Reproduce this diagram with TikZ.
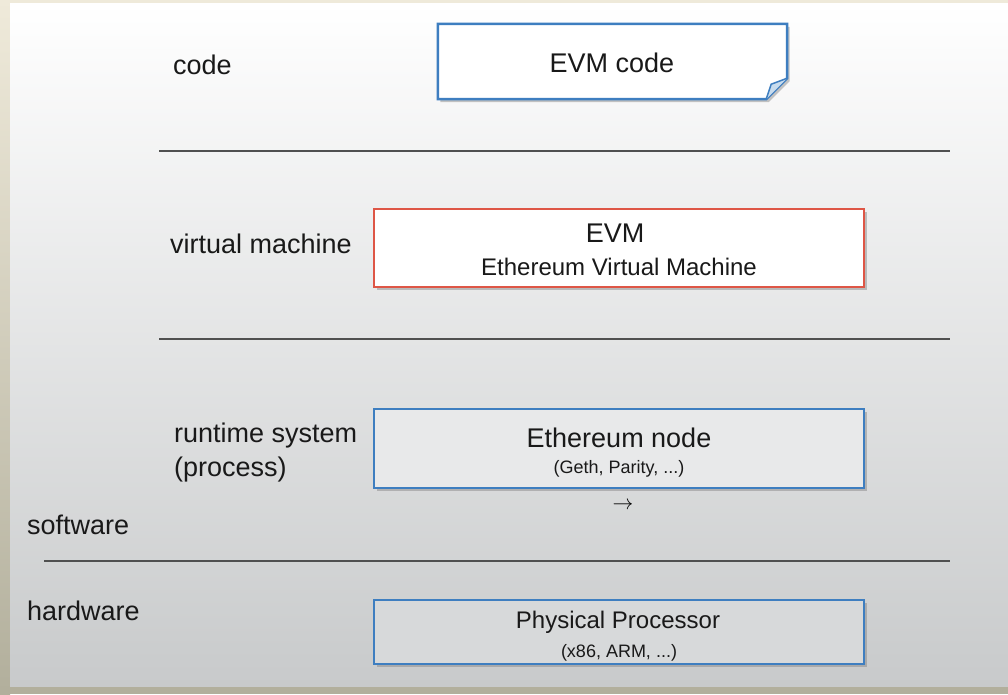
\documentclass[tikz,border=0pt]{standalone}
\usepackage{fontspec}
\setmainfont{Liberation Sans}
\usetikzlibrary{shadows}
\definecolor{boxblue}{RGB}{62,126,192}
\definecolor{boxred}{RGB}{222,86,70}
\definecolor{rulegray}{RGB}{80,80,80}
\definecolor{framebeige}{RGB}{239,234,218}
\definecolor{framedark}{RGB}{178,175,156}
\definecolor{slidemid}{RGB}{238,239,240}
\definecolor{slidegray}{RGB}{200,202,203}
\definecolor{foldblue}{RGB}{200,220,238}
\tikzset{
	layer/.style={anchor=base west,inner sep=0pt,font=\fontsize{27}{32}\selectfont,text=black!90},
	title/.style={anchor=base,inner sep=0pt,font=\fontsize{27}{32}\selectfont,text=black!90},
	subtitle/.style={anchor=base,inner sep=0pt,font=\fontsize{24}{28}\selectfont,text=black!90},
	small/.style={anchor=base,inner sep=0pt,font=\fontsize{18}{22}\selectfont,text=black!90},
	box/.style={draw=boxblue,line width=2.5pt,minimum width=490pt,drop shadow={shadow xshift=2.5pt,shadow yshift=-3pt,opacity=.45}},
	sep/.style={draw=rulegray,line width=1.5pt}
}
\begin{document}
\begin{tikzpicture}[x=1pt,y=-1pt]
	\useasboundingbox (0,0) rectangle (1008,694);
	\fill[framebeige] (0,0) rectangle (1008,694);
	\shade[top color=framebeige,bottom color=framedark] (0,0) rectangle (10,694);
	\fill[framedark] (0,686) rectangle (1008,694);
	\shade[top color=white,middle color=slidemid,bottom color=slidegray] (10,3) rectangle (1008,686);

	\coordinate (s1a) at (159,151);
	\coordinate (s1b) at (950,151);
	\coordinate (s2a) at (159,339);
	\coordinate (s2b) at (950,339);
	\coordinate (s3a) at (44,561);
	\coordinate (s3b) at (950,561);
	\draw[sep] (s1a) -- (s1b);
	\draw[sep] (s2a) -- (s2b);
	\draw[sep] (s3a) -- (s3b);

	\node(code) [layer] at (173,74) {code};
	\node(vm) [layer] at (170,253) {virtual machine};
	\node(runtime) [layer] at (174,442) {runtime system};
	\node(process) [layer] at (174,476) {(process)};
	\node(software) [layer] at (27,534) {software};
	\node(hardware) [layer] at (27,620) {hardware};

	\node(evmcode) [minimum width=349pt,minimum height=75pt,inner sep=0pt] at (612.5,61.5) {};
	\draw[box,fill=white] (evmcode.north west) -- (evmcode.north east) -- ([yshift=21pt]evmcode.south east) -- ([xshift=-21pt]evmcode.south east) -- (evmcode.south west) -- cycle;
	\draw[draw=boxblue,line width=1.5pt,fill=foldblue,line join=round] ([yshift=21pt]evmcode.south east) -- ([xshift=-16pt,yshift=15pt]evmcode.south east) -- ([xshift=-21pt]evmcode.south east);
	\node(evmcodetxt) [title] at (612,72) {EVM code};

	\node(evm) [box,draw=boxred,fill=white,minimum height=78pt] at (619,248) {};
	\node(evmtxt) [title] at (615,242) {EVM};
	\node(evmsub) [subtitle] at (619,275) {Ethereum Virtual Machine};

	\node(ethnode) [box,fill=slidemid!85!slidegray,minimum height=79pt] at (619,448.5) {};
	\node(ethtxt) [title] at (619,447) {Ethereum node};
	\node(ethsub) [small] at (619,473) {(Geth, Parity, ...)};
	\node(cursor) [font=\fontsize{22}{22}\selectfont] at (623,506) {$\rightarrow$};

	\node(cpu) [box,fill=slidegray!60!slidemid,minimum height=64pt] at (619,632) {};
	\node(cputxt) [subtitle] at (618,628) {Physical Processor};
	\node(cpusub) [small] at (619,657) {(x86, ARM, ...)};
\end{tikzpicture}
\end{document}
